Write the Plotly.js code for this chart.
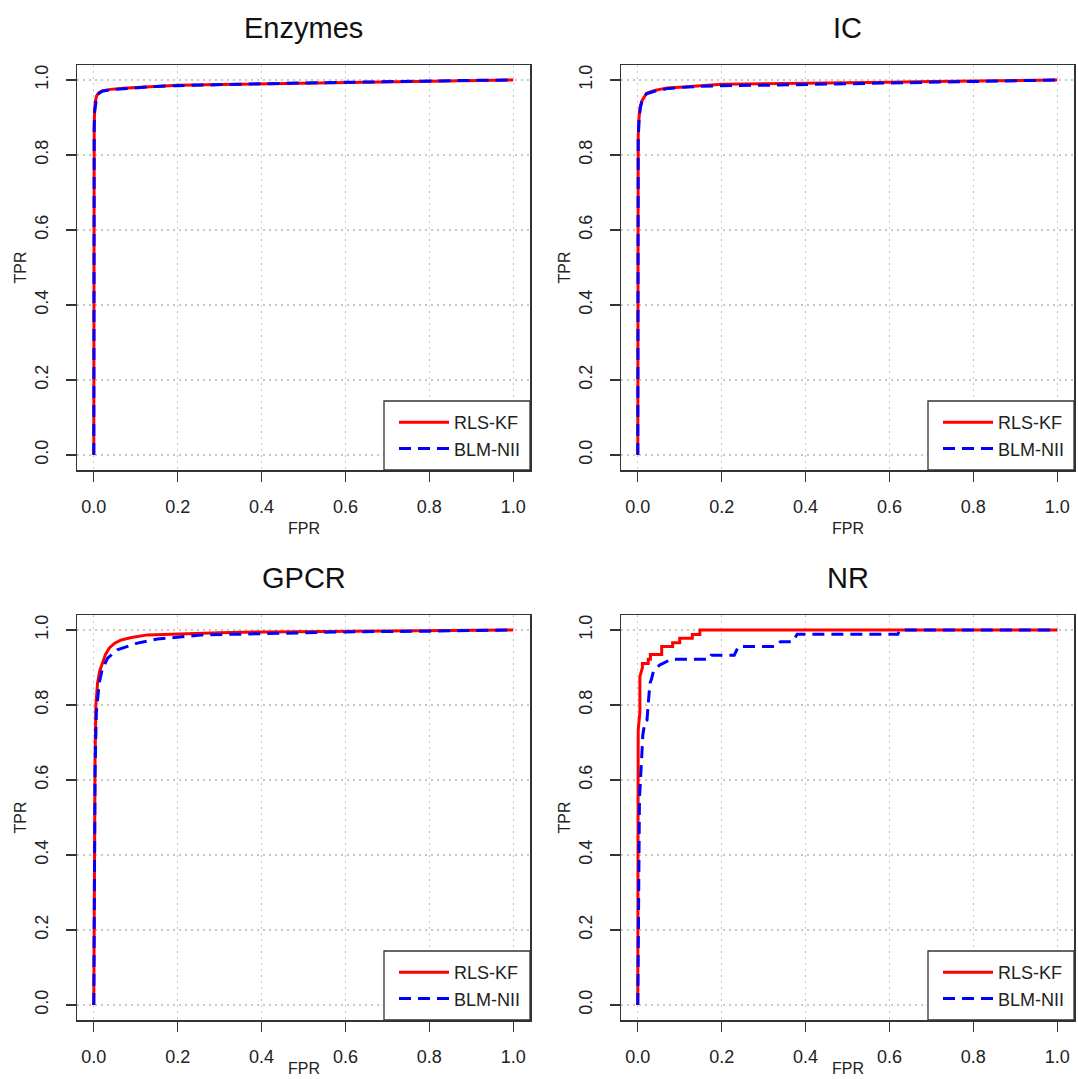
<!DOCTYPE html>
<html><head><meta charset="utf-8">
<script src="https://cdn.plot.ly/plotly-3.0.1.min.js"></script>
<style>html,body{margin:0;padding:0;background:#fff}#chart{width:1078px;height:1079px}</style>
</head><body><div id="chart"></div>
<script>
// ---- data ----
var panelTitles = ["Enzymes", "IC", "GPCR", "NR"];
var seriesNames = ["RLS-KF", "BLM-NII"];
var tickValues = [0, 0.2, 0.4, 0.6, 0.8, 1.0];
var tickLabels = ["0.0", "0.2", "0.4", "0.6", "0.8", "1.0"];

var enzRlsFpr = [0, 0, 0.001, 0.002, 0.004, 0.007, 0.012, 0.02, 0.04, 0.07, 0.1, 0.15, 0.2, 0.3, 0.4, 0.5, 0.6, 0.7, 0.8, 0.9, 1];
var enzRlsTpr = [0, 0.5, 0.88, 0.92, 0.945, 0.958, 0.966, 0.971, 0.975, 0.978, 0.98, 0.983, 0.986, 0.988, 0.99, 0.992, 0.994, 0.995, 0.997, 0.999, 1];
var enzBlmFpr = [0, 0, 0.001, 0.002, 0.004, 0.007, 0.012, 0.02, 0.04, 0.07, 0.1, 0.15, 0.2, 0.3, 0.4, 0.5, 0.6, 0.7, 0.8, 0.9, 1];
var enzBlmTpr = [0, 0.5, 0.87, 0.915, 0.94, 0.955, 0.964, 0.97, 0.974, 0.977, 0.98, 0.983, 0.985, 0.988, 0.99, 0.992, 0.994, 0.995, 0.997, 0.999, 1];

var icRlsFpr = [0, 0, 0.001, 0.003, 0.006, 0.01, 0.015, 0.021, 0.04, 0.07, 0.1, 0.15, 0.2, 0.3, 0.4, 0.5, 0.6, 0.7, 0.8, 0.9, 1];
var icRlsTpr = [0, 0.5, 0.85, 0.9, 0.93, 0.945, 0.955, 0.965, 0.972, 0.979, 0.981, 0.985, 0.989, 0.99, 0.991, 0.993, 0.994, 0.996, 0.997, 0.998, 1];
var icBlmFpr = [0, 0, 0.001, 0.003, 0.006, 0.01, 0.015, 0.021, 0.04, 0.07, 0.1, 0.15, 0.2, 0.3, 0.4, 0.5, 0.6, 0.7, 0.8, 0.9, 1];
var icBlmTpr = [0, 0.5, 0.84, 0.895, 0.925, 0.943, 0.955, 0.963, 0.97, 0.977, 0.98, 0.983, 0.985, 0.986, 0.988, 0.99, 0.993, 0.995, 0.997, 0.998, 1];

var gpcrRlsFpr = [0, 0.001, 0.003, 0.005, 0.009, 0.014, 0.02, 0.028, 0.037, 0.05, 0.064, 0.09, 0.128, 0.207, 0.24, 0.3, 0.4, 0.6, 0.8, 0.9, 1];
var gpcrRlsTpr = [0, 0.3, 0.65, 0.8, 0.858, 0.89, 0.912, 0.935, 0.952, 0.965, 0.973, 0.98, 0.987, 0.99, 0.992, 0.993, 0.995, 0.996, 0.998, 0.999, 1];
var gpcrBlmFpr = [0, 0.001, 0.003, 0.006, 0.013, 0.02, 0.033, 0.056, 0.08, 0.104, 0.152, 0.2, 0.26, 0.35, 0.4, 0.5, 0.6, 0.8, 0.9, 1];
var gpcrBlmTpr = [0, 0.3, 0.62, 0.78, 0.858, 0.895, 0.925, 0.947, 0.957, 0.965, 0.976, 0.981, 0.987, 0.989, 0.99, 0.992, 0.995, 0.997, 0.998, 1];

var nrRlsFpr = [0, 0.001, 0.005, 0.005, 0.011, 0.011, 0.025, 0.025, 0.030, 0.030, 0.057, 0.057, 0.083, 0.083, 0.1, 0.1, 0.13, 0.13, 0.148, 0.148, 1.0];
var nrRlsTpr = [0, 0.733, 0.78, 0.875, 0.9, 0.911, 0.911, 0.922, 0.922, 0.935, 0.935, 0.956, 0.956, 0.966, 0.966, 0.978, 0.978, 0.988, 0.988, 1.0, 1.0];
var nrBlmFpr = [0, 0.003, 0.004, 0.009, 0.012, 0.017, 0.022, 0.025, 0.029, 0.033, 0.037, 0.045, 0.053, 0.08, 0.17, 0.175, 0.23, 0.24, 0.33, 0.34, 0.37, 0.38, 0.62, 0.625, 1.0];
var nrBlmTpr = [0, 0.3, 0.55, 0.653, 0.72, 0.755, 0.76, 0.804, 0.858, 0.87, 0.889, 0.9, 0.907, 0.922, 0.922, 0.933, 0.933, 0.956, 0.956, 0.969, 0.969, 0.989, 0.989, 1.0, 1.0];

// ---- layout geometry (pixels) ----
var W = 1078, H = 1079;
var boxes = [
  {l: 77, r: 530, t: 65, b: 470},
  {l: 621, r: 1074, t: 65, b: 470},
  {l: 77, r: 530, t: 615, b: 1020},
  {l: 621, r: 1074, t: 615, b: 1020}
];
var allData = [
  [enzRlsFpr, enzRlsTpr, enzBlmFpr, enzBlmTpr],
  [icRlsFpr, icRlsTpr, icBlmFpr, icBlmTpr],
  [gpcrRlsFpr, gpcrRlsTpr, gpcrBlmFpr, gpcrBlmTpr],
  [nrRlsFpr, nrRlsTpr, nrBlmFpr, nrBlmTpr]
];
var LEG_W = 146, LEG_H = 69;

var FONT = "Liberation Sans, Arial, sans-serif";
var traces = [];
var layout = {
  width: W, height: H,
  margin: {l: 0, r: 0, t: 0, b: 0},
  paper_bgcolor: "#fff", plot_bgcolor: "#fff",
  font: {family: FONT, color: "#222"},
  showlegend: true,
  annotations: [],
  shapes: []
};

function px2x(p) { return p / W; }
function px2y(p) { return 1 - p / H; }

for (var i = 0; i < 4; i++) {
  var s = i === 0 ? "" : String(i + 1);
  var b = boxes[i];
  var d = allData[i];
  var legName = "legend" + s;
  traces.push({
    x: d[0], y: d[1], type: "scatter", mode: "lines", name: seriesNames[0],
    xaxis: "x" + s, yaxis: "y" + s, legend: legName,
    line: {color: "#ff0000", width: 3}
  });
  traces.push({
    x: d[2], y: d[3], type: "scatter", mode: "lines", name: seriesNames[1],
    xaxis: "x" + s, yaxis: "y" + s, legend: legName,
    line: {color: "#0000ff", width: 3, dash: "12px,7px"}
  });
  var axCommon = {
    range: [-0.04, 1.04], tickmode: "array", tickvals: tickValues, ticktext: tickLabels,
    showgrid: true, gridcolor: "#c8c8c8", griddash: "2px,4px", gridwidth: 1.2,
    zeroline: false, showline: true, mirror: true, linecolor: "#333", linewidth: 1.5,
    ticks: "outside", ticklen: 10, tickwidth: 1.3, tickcolor: "#333",
    tickfont: {size: 18, color: "#222", family: FONT}, fixedrange: true
  };
  var xa = Object.assign({}, axCommon, {
    domain: [px2x(b.l), px2x(b.r)], anchor: "y" + s, ticklabelstandoff: 10
  });
  var ya = Object.assign({}, axCommon, {
    domain: [px2y(b.b), px2y(b.t)], anchor: "x" + s, tickangle: -90, ticklabelstandoff: 10
  });
  layout["xaxis" + s] = xa;
  layout["yaxis" + s] = ya;
  // legend frame (white box, black border) in the bottom-right corner
  layout.shapes.push({
    type: "rect", xref: "paper", yref: "paper", layer: "above",
    x0: px2x(b.r - LEG_W), x1: px2x(b.r), y0: px2y(b.b), y1: px2y(b.b - LEG_H),
    fillcolor: "#fff", line: {color: "#333", width: 1.3}
  });
  layout[legName] = {
    x: px2x(b.r - LEG_W + 10), y: px2y(b.b - LEG_H + 3), xanchor: "left", yanchor: "top",
    xref: "paper", yref: "paper",
    bgcolor: "rgba(0,0,0,0)", borderwidth: 0,
    font: {size: 18, color: "#222", family: FONT},
    itemwidth: 50, tracegroupgap: 0
  };
  var cx = (b.l + b.r) / 2;
  var cy = (b.t + b.b) / 2;
  layout.annotations.push({
    text: panelTitles[i], xref: "paper", yref: "paper", showarrow: false,
    x: px2x(cx), y: px2y(b.t - 37), xanchor: "center", yanchor: "middle",
    font: {size: 29, color: "#111", family: FONT}
  });
  layout.annotations.push({
    text: "FPR", xref: "paper", yref: "paper", showarrow: false,
    x: px2x(cx), y: px2y(Math.min(b.b + 58, 1068)), xanchor: "center", yanchor: "middle",
    font: {size: 16, color: "#222", family: FONT}
  });
  layout.annotations.push({
    text: "TPR", xref: "paper", yref: "paper", showarrow: false, textangle: -90,
    x: px2x(b.l - 57), y: px2y(cy), xanchor: "center", yanchor: "middle",
    font: {size: 16, color: "#222", family: FONT}
  });
}

Plotly.newPlot("chart", traces, layout, {staticPlot: true, displayModeBar: false});
</script></body></html>
